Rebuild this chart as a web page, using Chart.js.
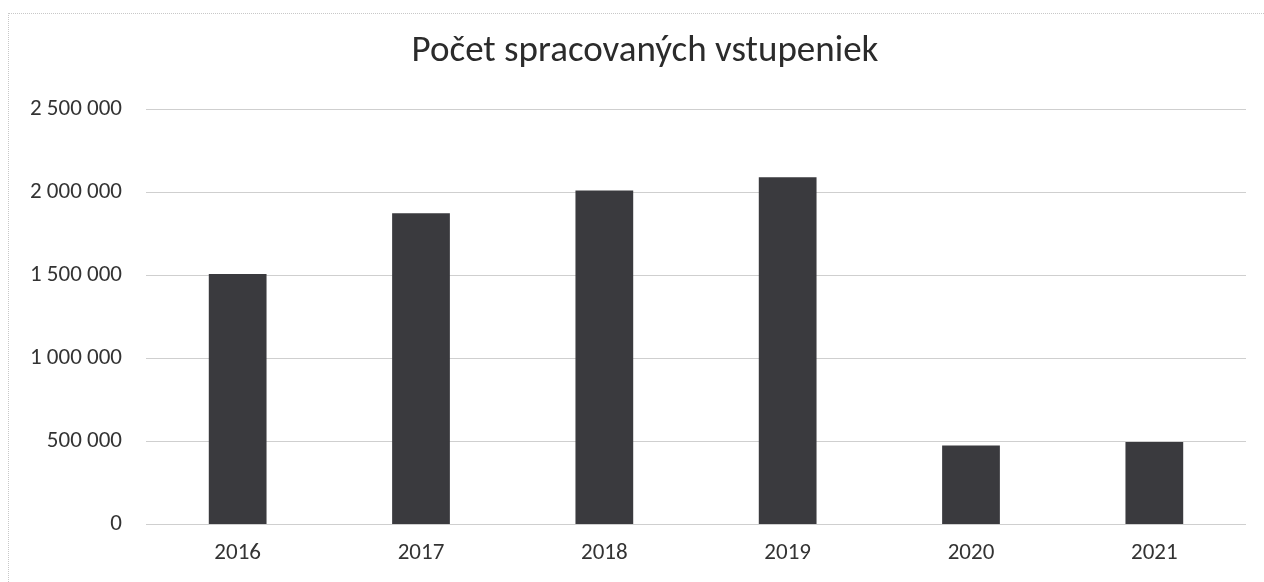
<!DOCTYPE html>
<html>
<head>
<meta charset="utf-8">
<script src="https://cdn.jsdelivr.net/npm/chart.js@4/dist/chart.umd.min.js"></script>
<style>
  html, body { margin: 0; padding: 0; background: #fff; overflow: hidden; }
  #wrap { position: relative; width: 1264px; height: 582px; }
  #frame { position: absolute; left: 8px; top: 13px; right: 0; bottom: 0; border: 1px dotted #c8c8c8; border-right: none; border-bottom: none; }
  canvas { position: absolute; left: 0; top: 0; }
</style>
</head>
<body>
<div id="wrap">
  <div id="frame"></div>
  <canvas id="graph" width="1264" height="582"></canvas>
</div>
<script>
// données
var annees = ['2016', '2017', '2018', '2019', '2020', '2021'];
var vstupenky = [1508000, 1874000, 2011000, 2091000, 475000, 497000];
var graduations = [0, 500000, 1000000, 1500000, 2000000, 2500000];

var police = 'Carlito, Lato, "Open Sans", sans-serif';

function avecEspaces(v) {
  return String(v).replace(/\B(?=(\d{3})+(?!\d))/g, ' ');
}

// décale le titre vers la droite comme dans Excel
var decaleTitre = {
  id: 'decaleTitre',
  afterLayout: function(chart) {
    if (chart.titleBlock) chart.titleBlock.left = 44;
  }
};

const ctxt = document.getElementById('graph');

const graph = new Chart(ctxt, {
  type: 'bar',
  data: {
    labels: annees,
    datasets: [{
      label: 'Počet spracovaných vstupeniek',
      data: vstupenky,
      backgroundColor: '#3a3a3e',
      borderWidth: 0,
      barPercentage: 0.315,
      categoryPercentage: 1
    }]
  },
  options: {
    responsive: false,
    animation: false,
    layout: { padding: { left: 0, right: 18, top: 0, bottom: 0 } },
    plugins: {
      legend: { display: false },
      tooltip: { enabled: false },
      title: {
        display: true,
        text: 'Počet spracovaných vstupeniek',
        color: '#2b2b2b',
        font: { family: police, size: 37, weight: 'normal' },
        padding: { top: 30, bottom: 35 }
      }
    },
    scales: {
      x: {
        grid: { display: false, drawTicks: false },
        border: { display: false },
        ticks: { color: '#333', font: { family: police, size: 23 }, padding: 15 }
      },
      y: {
        min: 0,
        max: 2500000,
        afterFit: function(axe) { axe.width = 146; },
        afterBuildTicks: function(axe) {
          axe.ticks = graduations.map(function(v) { return { value: v }; });
        },
        grid: { color: '#cfcfcf', lineWidth: 1, drawTicks: false },
        border: { display: false },
        ticks: {
          color: '#333',
          font: { family: police, size: 23 },
          padding: 24,
          callback: function(v) { return avecEspaces(v); }
        }
      }
    }
  },
  plugins: [decaleTitre]
});
</script>
</body>
</html>
